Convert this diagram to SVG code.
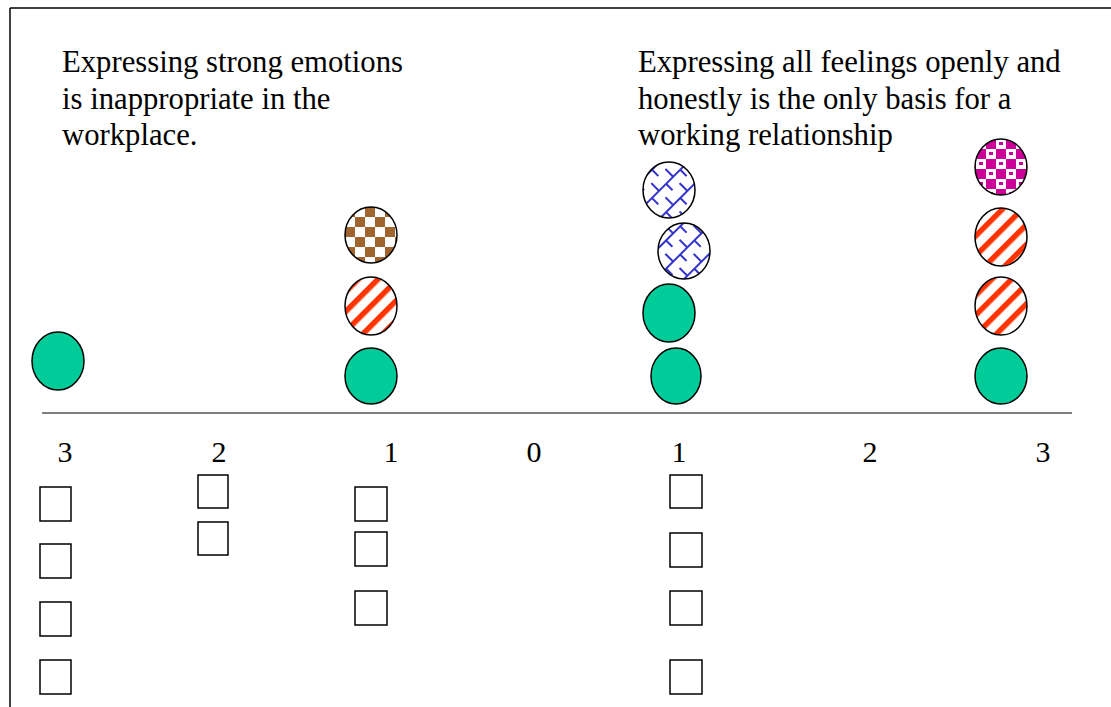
<svg xmlns="http://www.w3.org/2000/svg" width="1111" height="707" viewBox="0 0 1111 707">
<style>
text{font-family:"Liberation Serif","Times New Roman",serif;fill:#000}
.lbl{font-size:30.7px}
.num{font-size:30px;text-anchor:middle}
.box{fill:#fff;stroke:#000;stroke-width:1.5}
.dot{stroke:#000;stroke-width:1.5}
.green{fill:#00CC99}
</style>
<defs>
<pattern id="brown" width="20" height="20" patternUnits="userSpaceOnUse" x="345" y="207">
<rect width="20" height="20" fill="#fff"/>
<rect width="10" height="10" fill="#A0652F"/>
<rect x="10" y="10" width="10" height="10" fill="#A0652F"/>
</pattern>
<pattern id="red" width="14" height="14" patternUnits="userSpaceOnUse" patternTransform="rotate(-45)">
<rect width="14" height="14" fill="#fff"/>
<rect width="14" height="5.5" fill="#FF3300"/>
</pattern>
<pattern id="blue" width="20" height="20" patternUnits="userSpaceOnUse" patternTransform="rotate(-45)">
<rect width="20" height="20" fill="#fff"/>
<rect width="20" height="2" fill="#3333CC"/>
<rect x="0" y="0" width="2" height="10" fill="#3333CC"/>
<rect x="10" y="10" width="2" height="10" fill="#3333CC"/>
</pattern>
<pattern id="magenta" width="20" height="20" patternUnits="userSpaceOnUse" x="976" y="139">
<rect width="20" height="20" fill="#CC0099"/>
<rect width="10" height="10" fill="#fff"/>
<rect x="10" y="10" width="10" height="10" fill="#fff"/>
<rect x="3" y="3" width="4" height="3" fill="#CC0099"/>
<rect x="13" y="13" width="4" height="3" fill="#CC0099"/>
</pattern>
</defs>
<g id="frame" fill="none" stroke="#000" stroke-width="1.5">
<line x1="10" y1="8" x2="1111" y2="8"/>
<line x1="10" y1="8" x2="10" y2="707"/>
</g>
<g id="labels">
<text class="lbl" x="62" y="72">Expressing strong emotions</text>
<text class="lbl" x="62" y="109">is inappropriate in the</text>
<text class="lbl" x="62" y="145">workplace.</text>
<text class="lbl" x="638" y="72">Expressing all feelings openly and</text>
<text class="lbl" x="638" y="109">honestly is the only basis for a</text>
<text class="lbl" x="638" y="145">working relationship</text>
</g>
<g id="connectors">
<line x1="42" y1="413" x2="1072" y2="413" stroke="#555" stroke-width="1.5"/>
</g>
<g id="scale">
<text class="num" x="65" y="462">3</text>
<text class="num" x="219" y="462">2</text>
<text class="num" x="391" y="462">1</text>
<text class="num" x="534" y="462">0</text>
<text class="num" x="679" y="462">1</text>
<text class="num" x="870" y="462">2</text>
<text class="num" x="1043" y="462">3</text>
</g>
<g id="col-left3">
<ellipse class="dot green" cx="58" cy="361" rx="26" ry="29"/>
</g>
<g id="col-left1">
<ellipse class="dot" cx="371" cy="235" rx="26" ry="28" fill="url(#brown)"/>
<ellipse class="dot" cx="371" cy="306" rx="26" ry="29" fill="url(#red)"/>
<ellipse class="dot green" cx="371" cy="376" rx="26" ry="28"/>
</g>
<g id="col-right1">
<ellipse class="dot" cx="669" cy="190" rx="26" ry="28" fill="url(#blue)"/>
<ellipse class="dot" cx="684" cy="251" rx="26" ry="28" fill="url(#blue)"/>
<ellipse class="dot green" cx="669" cy="313" rx="26" ry="29"/>
<ellipse class="dot green" cx="676" cy="376" rx="25" ry="28"/>
</g>
<g id="col-right3">
<ellipse class="dot" cx="1001" cy="167" rx="26" ry="28" fill="url(#magenta)"/>
<ellipse class="dot" cx="1001" cy="237" rx="26" ry="29" fill="url(#red)"/>
<ellipse class="dot" cx="1001" cy="306" rx="26" ry="29" fill="url(#red)"/>
<ellipse class="dot green" cx="1001" cy="376" rx="26" ry="28"/>
</g>
<g id="boxes-left3">
<rect class="box" x="40" y="487" width="31" height="34"/>
<rect class="box" x="40" y="544" width="31" height="34"/>
<rect class="box" x="40" y="602" width="31" height="34"/>
<rect class="box" x="40" y="660" width="31" height="34"/>
</g>
<g id="boxes-left2">
<rect class="box" x="198" y="475" width="30" height="33"/>
<rect class="box" x="198" y="522" width="30" height="33"/>
</g>
<g id="boxes-left1">
<rect class="box" x="355" y="487" width="32" height="34"/>
<rect class="box" x="355" y="532" width="32" height="34"/>
<rect class="box" x="355" y="591" width="32" height="34"/>
</g>
<g id="boxes-right1">
<rect class="box" x="670" y="475" width="32" height="33"/>
<rect class="box" x="670" y="533" width="32" height="34"/>
<rect class="box" x="670" y="591" width="32" height="34"/>
<rect class="box" x="670" y="660" width="32" height="34"/>
</g>
</svg>
